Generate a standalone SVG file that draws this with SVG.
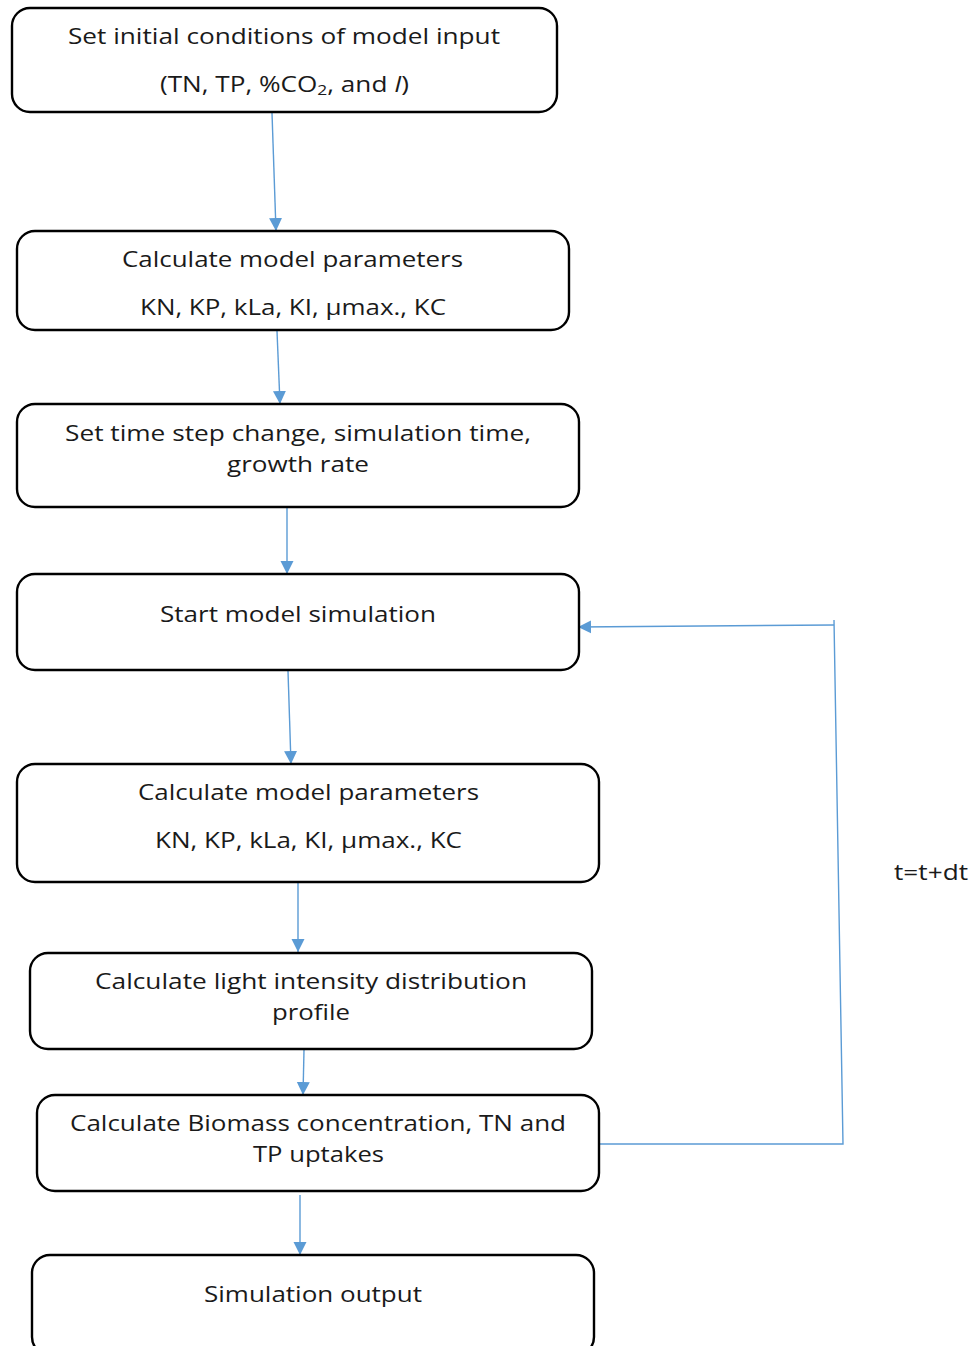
<svg xmlns="http://www.w3.org/2000/svg" width="977" height="1346" viewBox="0 0 977 1346">
  <defs>
    <marker id="arrow" viewBox="0 0 10 10" refX="10" refY="5" markerWidth="13" markerHeight="14" markerUnits="userSpaceOnUse" orient="auto">
      <path d="M0,0 L10,5 L0,10 z" fill="#5B9BD5"/>
    </marker>
    <style>
      .box { fill: #ffffff; stroke: #000000; stroke-width: 2.4; }
      .lbl { font-family: "Open Sans", "DejaVu Sans", sans-serif; font-size: 21px; fill: #1a1a1a; text-anchor: middle; }
      .conn { fill: none; stroke: #5B9BD5; stroke-width: 1.4; }
    </style>
  </defs>
  <rect width="977" height="1346" fill="#ffffff"/>

  <g id="connectors">
    <line class="conn" x1="272" y1="113" x2="276" y2="231" marker-end="url(#arrow)"/>
    <line class="conn" x1="277" y1="331" x2="280" y2="404" marker-end="url(#arrow)"/>
    <line class="conn" x1="287" y1="508" x2="287" y2="574" marker-end="url(#arrow)"/>
    <line class="conn" x1="288" y1="671" x2="291" y2="764" marker-end="url(#arrow)"/>
    <line class="conn" x1="298" y1="882" x2="298" y2="952" marker-end="url(#arrow)"/>
    <line class="conn" x1="304" y1="1050" x2="303" y2="1095" marker-end="url(#arrow)"/>
    <line class="conn" x1="300" y1="1195" x2="300" y2="1255" marker-end="url(#arrow)"/>
    <!-- feedback loop: t = t + dt -->
    <polyline class="conn" points="599,1144 843,1144 834,620"/>
    <line class="conn" x1="834" y1="625" x2="578" y2="627" marker-end="url(#arrow)"/>
  </g>

  <g id="node-init">
    <rect class="box" x="12" y="8" width="545" height="104" rx="18"/>
    <text class="lbl" x="284" y="44" textLength="432" lengthAdjust="spacingAndGlyphs">Set initial conditions of model input</text>
    <text class="lbl" x="284.5" y="92" textLength="249" lengthAdjust="spacingAndGlyphs">(TN, TP, %CO<tspan font-size="14" dy="3">2</tspan><tspan dy="-3">, and </tspan><tspan font-style="italic">I</tspan>)</text>
  </g>

  <g id="node-params1">
    <rect class="box" x="17" y="231" width="552" height="99" rx="18"/>
    <text class="lbl" x="292.5" y="267" textLength="341" lengthAdjust="spacingAndGlyphs">Calculate model parameters</text>
    <text class="lbl" x="293" y="315" textLength="306" lengthAdjust="spacingAndGlyphs">KN, KP, kLa, KI, μmax., KC</text>
  </g>

  <g id="node-timestep">
    <rect class="box" x="17" y="404" width="562" height="103" rx="18"/>
    <text class="lbl" x="298" y="441" textLength="466" lengthAdjust="spacingAndGlyphs">Set time step change, simulation time,</text>
    <text class="lbl" x="298" y="472" textLength="142" lengthAdjust="spacingAndGlyphs">growth rate</text>
  </g>

  <g id="node-start">
    <rect class="box" x="17" y="574" width="562" height="96" rx="18"/>
    <text class="lbl" x="298" y="622" textLength="276" lengthAdjust="spacingAndGlyphs">Start model simulation</text>
  </g>

  <g id="node-params2">
    <rect class="box" x="17" y="764" width="582" height="118" rx="18"/>
    <text class="lbl" x="308.5" y="800" textLength="341" lengthAdjust="spacingAndGlyphs">Calculate model parameters</text>
    <text class="lbl" x="308.5" y="848" textLength="307" lengthAdjust="spacingAndGlyphs">KN, KP, kLa, KI, μmax., KC</text>
  </g>

  <g id="node-light">
    <rect class="box" x="30" y="953" width="562" height="96" rx="18"/>
    <text class="lbl" x="311" y="989" textLength="432" lengthAdjust="spacingAndGlyphs">Calculate light intensity distribution</text>
    <text class="lbl" x="311" y="1020" textLength="78" lengthAdjust="spacingAndGlyphs">profile</text>
  </g>

  <g id="node-biomass">
    <rect class="box" x="37" y="1095" width="562" height="96" rx="18"/>
    <text class="lbl" x="318" y="1131" textLength="496" lengthAdjust="spacingAndGlyphs">Calculate Biomass concentration, TN and</text>
    <text class="lbl" x="318.5" y="1162" textLength="131" lengthAdjust="spacingAndGlyphs">TP uptakes</text>
  </g>

  <g id="node-output">
    <rect class="box" x="32" y="1255" width="562" height="100" rx="18"/>
    <text class="lbl" x="313" y="1302" textLength="218" lengthAdjust="spacingAndGlyphs">Simulation output</text>
  </g>

  <text class="lbl" x="931" y="880" textLength="74" lengthAdjust="spacingAndGlyphs">t=t+dt</text>
</svg>
